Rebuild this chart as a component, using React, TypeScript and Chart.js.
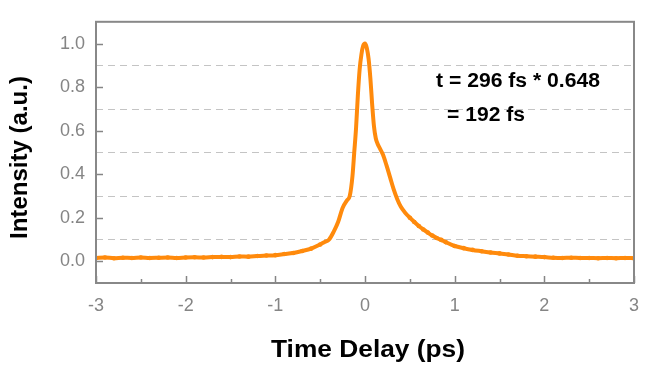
import React, { useEffect, useRef } from "react";
import { Chart, registerables } from "chart.js";

Chart.register(...registerables);

// Time delay (ps) and normalized intensity
const DELAY_PS = [
  -3.0, -2.9, -2.8, -2.7, -2.6, -2.5, -2.4, -2.3, -2.2, -2.1, -2.0, -1.9, -1.8, -1.7, -1.6, -1.5,
  -1.4, -1.3, -1.2, -1.1, -1.0, -0.9, -0.8, -0.7, -0.6, -0.5, -0.45, -0.4, -0.35, -0.3, -0.25,
  -0.2, -0.17, -0.14, -0.12, -0.1, -0.08, -0.06, -0.04, -0.02, 0.0, 0.02, 0.04, 0.06, 0.08, 0.1,
  0.12, 0.14, 0.17, 0.2, 0.24, 0.28, 0.32, 0.36, 0.4, 0.45, 0.5, 0.55, 0.6, 0.65, 0.7, 0.75, 0.8,
  0.85, 0.9, 1.0, 1.1, 1.2, 1.3, 1.4, 1.5, 1.6, 1.7, 1.8, 1.9, 2.0, 2.1, 2.2, 2.3, 2.4, 2.5, 2.6,
  2.7, 2.8, 2.9, 3.0,
];
const INTENSITY = [
  0.015, 0.017, 0.014, 0.016, 0.015, 0.017, 0.015, 0.016, 0.017, 0.015, 0.017, 0.018, 0.017, 0.019,
  0.02, 0.019, 0.022, 0.021, 0.024, 0.026, 0.028, 0.033, 0.038, 0.047, 0.058, 0.077, 0.088, 0.1,
  0.135, 0.18, 0.245, 0.28, 0.3, 0.39, 0.5, 0.61, 0.76, 0.88, 0.95, 0.99, 1.0, 0.98, 0.93, 0.84,
  0.72, 0.62, 0.565, 0.54, 0.515, 0.49, 0.44, 0.385, 0.33, 0.285, 0.25, 0.222, 0.2, 0.18, 0.162,
  0.146, 0.132, 0.118, 0.107, 0.098, 0.088, 0.07, 0.06, 0.052, 0.046, 0.04, 0.036, 0.031, 0.025,
  0.023, 0.021, 0.019, 0.016, 0.015, 0.016, 0.015, 0.015, 0.014, 0.015, 0.014, 0.015, 0.014,
];

const X_TICKS = [-3, -2, -1, 0, 1, 2, 3];
const X_MINOR_TICKS = [-2.5, -1.5, -0.5, 0.5, 1.5, 2.5];
const Y_TICKS = [0, 0.2, 0.4, 0.6, 0.8, 1.0];
const Y_DASHED_GRID = [0.1, 0.3, 0.5, 0.7, 0.9];

const X_TITLE = "Time Delay (ps)";
const Y_TITLE = "Intensity (a.u.)";
const NOTE_LINE_1 = "t = 296 fs * 0.648";
const NOTE_LINE_2 = "= 192 fs";

const FONT_FAMILY = '"Liberation Sans", Arial, Helvetica, sans-serif';
const ORANGE = "#FF8A0C";
const GRAY = "#858585";

function drawFitted(
  ctx: CanvasRenderingContext2D,
  text: string,
  x: number,
  baseline: number,
  size: number,
  targetWidth: number,
  align: "left" | "center"
) {
  ctx.save();
  ctx.font = `bold ${size}px ${FONT_FAMILY}`;
  const w = ctx.measureText(text).width;
  const sx = targetWidth / w;
  ctx.translate(x, baseline);
  ctx.scale(sx, 1);
  ctx.textAlign = align;
  ctx.textBaseline = "alphabetic";
  ctx.fillStyle = "#000";
  ctx.fillText(text, 0, 0);
  ctx.restore();
}

const framePlugin = {
  id: "frame",
  beforeDatasetsDraw(chart: any) {
    const { ctx, chartArea, scales } = chart;
    const { left, right } = chartArea;
    ctx.save();
    ctx.strokeStyle = "#c4c4c4";
    ctx.lineWidth = 1;
    ctx.setLineDash([7, 5]);
    Y_DASHED_GRID.forEach((v) => {
      const py = Math.round(scales.y.getPixelForValue(v)) + 0.5;
      ctx.beginPath();
      ctx.moveTo(left, py);
      ctx.lineTo(right, py);
      ctx.stroke();
    });
    ctx.restore();
  },
  afterDraw(chart: any) {
    const { ctx, chartArea, scales } = chart;
    const { left, right, top, bottom } = chartArea;
    ctx.save();
    // inward ticks
    ctx.strokeStyle = GRAY;
    ctx.lineWidth = 1.5;
    Y_TICKS.forEach((v) => {
      const py = Math.round(scales.y.getPixelForValue(v)) + 0.5;
      ctx.beginPath();
      ctx.moveTo(left, py);
      ctx.lineTo(left + 7, py);
      ctx.stroke();
    });
    X_TICKS.forEach((v) => {
      const px = Math.round(scales.x.getPixelForValue(v)) + 0.5;
      ctx.beginPath();
      ctx.moveTo(px, bottom);
      ctx.lineTo(px, bottom - 7);
      ctx.stroke();
    });
    X_MINOR_TICKS.forEach((v) => {
      const px = Math.round(scales.x.getPixelForValue(v)) + 0.5;
      ctx.beginPath();
      ctx.moveTo(px, bottom);
      ctx.lineTo(px, bottom - 4);
      ctx.stroke();
    });
    // frame
    ctx.strokeStyle = "#888888";
    ctx.lineWidth = 2;
    ctx.strokeRect(left, top, right - left, bottom - top);
    ctx.restore();

    // titles and annotation
    drawFitted(ctx, X_TITLE, 368, 357, 23, 194, "center");
    ctx.save();
    ctx.translate(27, 157.5);
    ctx.rotate(-Math.PI / 2);
    drawFitted(ctx, Y_TITLE, 0, 0, 23, 163, "center");
    ctx.restore();
    drawFitted(ctx, NOTE_LINE_1, 436, 87, 20, 164, "left");
    drawFitted(ctx, NOTE_LINE_2, 447, 121, 20, 78, "left");
  },
};

export default function App() {
  const canvasRef = useRef<HTMLCanvasElement | null>(null);

  useEffect(() => {
    const canvas = canvasRef.current;
    if (!canvas) return;
    const points = DELAY_PS.map((t, i) => ({ x: t, y: INTENSITY[i] }));
    const chart = new Chart(canvas, {
      type: "line",
      data: {
        datasets: [
          {
            data: points,
            borderColor: ORANGE,
            backgroundColor: ORANGE,
            borderWidth: 4,
            cubicInterpolationMode: "monotone",
            pointRadius: (c: any) => (Math.abs(DELAY_PS[c.dataIndex]) >= 0.5 ? 2.3 : 0),
            pointBorderWidth: 0,
            pointHoverRadius: 0,
            fill: false,
          },
        ],
      },
      options: {
        responsive: false,
        animation: false,
        events: [],
        layout: { padding: { top: 7, right: 21, left: 0, bottom: 0 } },
        plugins: {
          legend: { display: false },
          tooltip: { enabled: false },
          title: { display: false },
        },
        scales: {
          x: {
            type: "linear",
            min: -3,
            max: 3,
            afterBuildTicks: (s: any) => {
              s.ticks = X_TICKS.map((v) => ({ value: v }));
            },
            afterFit: (s: any) => {
              s.height = 89;
            },
            grid: { display: false, drawTicks: false },
            border: { display: false },
            ticks: {
              color: GRAY,
              font: { size: 18, family: FONT_FAMILY },
              padding: 12,
              maxRotation: 0,
              autoSkip: false,
              callback: (v: any) => String(v),
            },
          },
          y: {
            type: "linear",
            min: -0.1,
            max: 1.1,
            afterBuildTicks: (s: any) => {
              s.ticks = Y_TICKS.map((v) => ({ value: v }));
            },
            afterFit: (s: any) => {
              s.width = 96;
            },
            grid: { display: false, drawTicks: false },
            border: { display: false },
            ticks: {
              color: GRAY,
              font: { size: 18, family: FONT_FAMILY },
              padding: 11,
              autoSkip: false,
              callback: (v: any) => Number(v).toFixed(1),
            },
          },
        },
      },
      plugins: [framePlugin],
    });
    return () => chart.destroy();
  }, []);

  return (
    <div style={{ position: "fixed", left: 0, top: 0, width: 655, height: 372, background: "#fff" }}>
      <canvas ref={canvasRef} width={655} height={372} />
    </div>
  );
}
